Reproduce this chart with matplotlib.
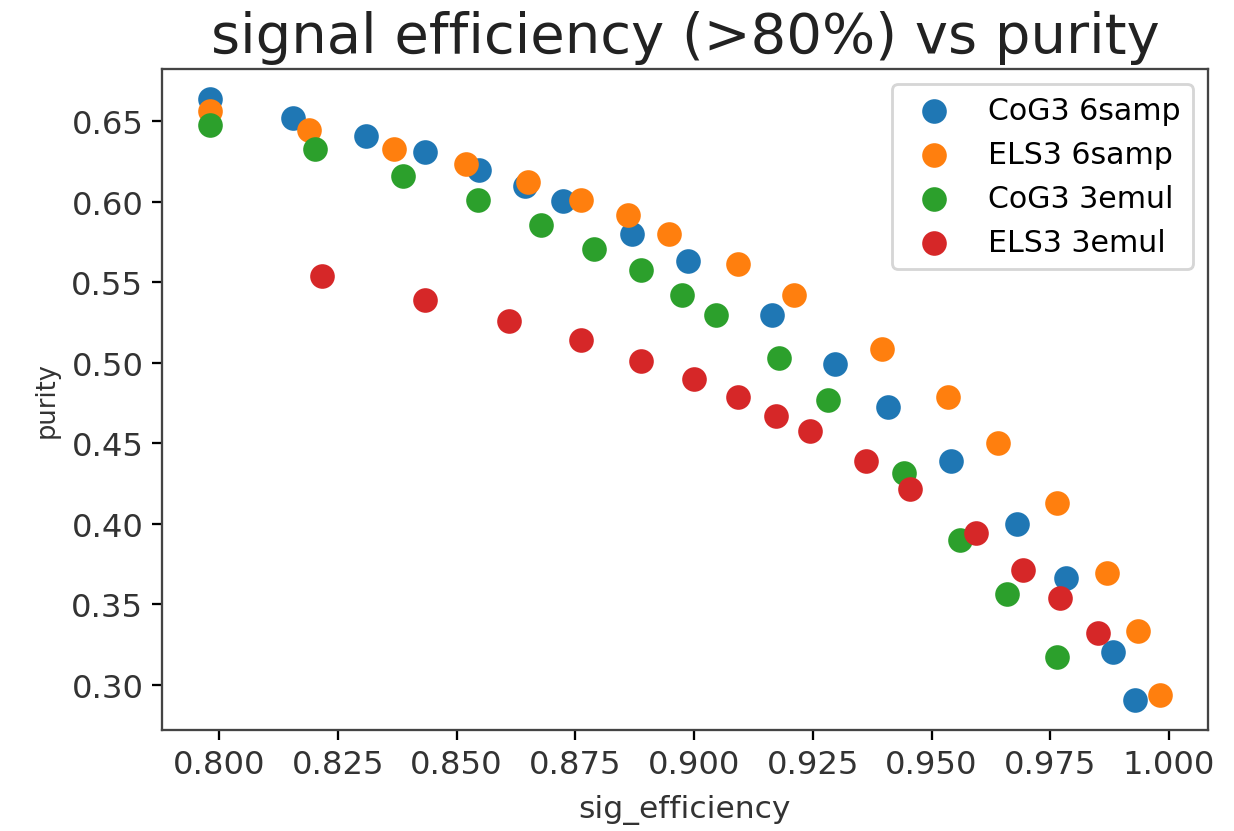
import matplotlib
matplotlib.use("Agg")
import matplotlib.pyplot as plt

# signal efficiency / purity per configuration
cog3_6samp_eff = [0.7980, 0.8156, 0.8309, 0.8434, 0.8547, 0.8644, 0.8724, 0.8869, 0.8988,
                  0.9165, 0.9297, 0.9409, 0.9541, 0.9679, 0.9784, 0.9883, 0.9929]
cog3_6samp_pur = [0.6639, 0.6521, 0.6407, 0.6310, 0.6196, 0.6101, 0.6008, 0.5803, 0.5634,
                  0.5295, 0.4995, 0.4729, 0.4391, 0.3997, 0.3662, 0.3206, 0.2907]

els3_6samp_eff = [0.7980, 0.8189, 0.8368, 0.8519, 0.8650, 0.8763, 0.8862, 0.8948, 0.9093,
                  0.9211, 0.9395, 0.9534, 0.9640, 0.9764, 0.9870, 0.9935, 0.9982]
els3_6samp_pur = [0.6562, 0.6444, 0.6329, 0.6238, 0.6126, 0.6010, 0.5921, 0.5803, 0.5617,
                  0.5425, 0.5084, 0.4786, 0.4503, 0.4129, 0.3694, 0.3337, 0.2939]

cog3_3emul_eff = [0.7980, 0.8203, 0.8388, 0.8545, 0.8677, 0.8789, 0.8888, 0.8974, 0.9047,
                  0.9178, 0.9283, 0.9442, 0.9559, 0.9659, 0.9764]
cog3_3emul_pur = [0.6480, 0.6329, 0.6159, 0.6010, 0.5859, 0.5709, 0.5576, 0.5425, 0.5295,
                  0.5030, 0.4767, 0.4319, 0.3902, 0.3564, 0.3171]

els3_3emul_eff = [0.8217, 0.8433, 0.8611, 0.8763, 0.8888, 0.9000, 0.9093, 0.9172, 0.9244,
                  0.9363, 0.9455, 0.9593, 0.9693, 0.9771, 0.9851]
els3_3emul_pur = [0.5539, 0.5390, 0.5258, 0.5143, 0.5014, 0.4900, 0.4786, 0.4673, 0.4577,
                  0.4391, 0.4220, 0.3945, 0.3715, 0.3543, 0.3320]

dpi = 205.67
fig = plt.figure(figsize=(1234 / dpi, 832 / dpi), dpi=dpi)
ax = fig.add_axes([162 / 1234, 1 - 731 / 832, (1208 - 162) / 1234, (731 - 70) / 832])

ax.scatter(cog3_6samp_eff, cog3_6samp_pur, s=58, label="CoG3 6samp")
ax.scatter(els3_6samp_eff, els3_6samp_pur, s=58, label="ELS3 6samp")
ax.scatter(cog3_3emul_eff, cog3_3emul_pur, s=58, label="CoG3 3emul")
ax.scatter(els3_3emul_eff, els3_3emul_pur, s=58, label="ELS3 3emul")

ax.set_title("signal efficiency (>80%) vs purity", fontsize=19.6, color="#222222")
ax.set_xlabel("sig_efficiency", fontsize=11, labelpad=5, color="#333333")
ax.set_ylabel("purity", fontsize=9, color="#333333")
ax.tick_params(labelsize=11.3, labelcolor="#333333", pad=3)
for sp in ax.spines.values():
    sp.set_color("#444444")
ax.legend(loc="upper right", fontsize=10.5)

fig.savefig("out.png", dpi=dpi)
